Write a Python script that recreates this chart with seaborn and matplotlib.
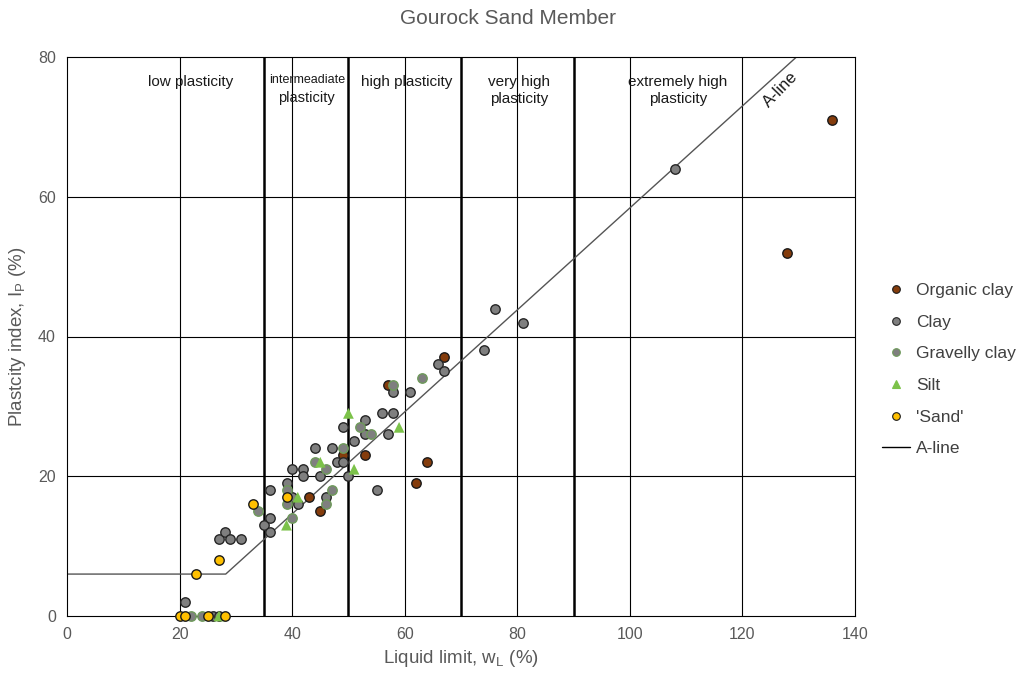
import matplotlib
matplotlib.use("Agg")
import matplotlib.pyplot as plt
import seaborn as sns
import numpy as np
import pandas as pd
from matplotlib.lines import Line2D

sns.set_theme(style="white")
plt.rcParams['font.family'] = ['Liberation Sans', 'DejaVu Sans']

# ---- data (liquid limit wL, plasticity index Ip) ----
organic_wl = [43, 45, 49, 53, 57, 62, 64, 67, 128, 136]
organic_ip = [17, 15, 23, 23, 33, 19, 22, 37, 52, 71]

clay_wl = [21, 26, 27, 27, 28, 29, 31, 35, 36, 36, 36, 39, 40, 40, 41, 42, 42, 44, 45, 46,
           47, 48, 49, 49, 50, 51, 53, 53, 55, 56, 57, 58, 58, 61, 66, 67, 74, 76, 81, 108]
clay_ip = [2, 0, 0, 11, 12, 11, 11, 13, 12, 14, 18, 19, 17, 21, 16, 21, 20, 24, 20, 17,
           24, 22, 22, 27, 20, 25, 28, 26, 18, 29, 26, 29, 32, 32, 36, 35, 38, 44, 42, 64]

gravelly_wl = [22, 24, 34, 39, 39, 40, 44, 46, 46, 47, 49, 52, 54, 58, 63]
gravelly_ip = [0, 0, 15, 18, 16, 14, 22, 21, 16, 18, 24, 27, 26, 33, 34]

silt_wl = [27, 39, 41, 45, 50, 51, 59]
silt_ip = [0, 13, 17, 22, 29, 21, 27]

sand_wl = [20, 21, 25, 28, 23, 27, 33, 39]
sand_ip = [0, 0, 0, 0, 6, 8, 16, 17]

# A-line: Ip = 0.73 (wL - 20), with horizontal part at Ip = 6
aline_wl = [0, 28.2, 129.6]
aline_ip = [6, 6, 80]

zones = [35, 50, 70, 90]
zone_labels = ["low plasticity", "high plasticity", "very high\nplasticity", "extremely high\nplasticity"]
zone_label_x = [22, 60.3, 80.3, 108.5]

xticks = [0, 20, 40, 60, 80, 100, 120, 140]
yticks = [0, 20, 40, 60, 80]

series = [
    ("Organic clay", organic_wl, organic_ip, "o", "#843C0C", "#1a1a1a"),
    ("Clay", clay_wl, clay_ip, "o", "#7F7F7F", "#262626"),
    ("Gravelly clay", gravelly_wl, gravelly_ip, "o", "#7F7F7F", "#6E9A5A"),
    ("Silt", silt_wl, silt_ip, "^", "#7CC24A", "none"),
    ("'Sand'", sand_wl, sand_ip, "o", "#FFC000", "#1a1a1a"),
]

fig = plt.figure(figsize=(10.24, 6.75), dpi=100)
ax = fig.add_axes([67 / 1024, 1 - 616 / 675, (855 - 67) / 1024, (616 - 57) / 675])

ax.set_xlim(0, 140)
ax.set_ylim(0, 80)

# grid
for gx in [20, 40, 60, 80, 100, 120]:
    ax.axvline(gx, color="black", lw=0.8, zorder=1)
for gy in [20, 40, 60]:
    ax.axhline(gy, color="black", lw=0.8, zorder=1)
for z in zones:
    ax.axvline(z, color="black", lw=1.8, zorder=1)

# A-line
sns.lineplot(x=aline_wl, y=aline_ip, ax=ax, color="#555555", lw=1.0, zorder=2,
             sort=False, estimator=None)

handles = []
for name, wl, ip, mk, fc, ec in series:
    df = pd.DataFrame({"wL": wl, "Ip": ip})
    sns.scatterplot(data=df, x="wL", y="Ip", ax=ax, marker=mk, s=46 if mk == "o" else 60,
                    color=fc, edgecolor=ec, linewidth=1.0 if ec != "none" else 0,
                    zorder=3, legend=False, clip_on=False)
    handles.append(Line2D([], [], marker=mk, linestyle="none", markersize=5.5 if mk == "o" else 6,
                          markerfacecolor=fc, markeredgecolor=ec if ec != "none" else fc,
                          markeredgewidth=0.8, label=name))
handles.append(Line2D([], [], color="black", lw=1.0, label="A-line"))

leg = fig.legend(handles=handles, loc="upper left", bbox_to_anchor=(875 / 1024, 1 - 276 / 675),
                 frameon=False, fontsize=12.5, labelspacing=0.95, handlelength=1.6,
                 handletextpad=0.35, borderaxespad=0)
for t in leg.get_texts():
    t.set_color("#404040")

# zone labels
for lbl, lx in zip(zone_labels, zone_label_x):
    ax.text(lx, 77.4, lbl, ha="center", va="top", fontsize=11, color="#1a1a1a", linespacing=1.3)
ax.text(42.6, 77.5, "intermeadiate", ha="center", va="top", fontsize=9, color="#1a1a1a")
ax.text(42.6, 75.1, "plasticity", ha="center", va="top", fontsize=10.5, color="#1a1a1a")
ax.text(126.8, 75.3, "A-line", ha="center", va="center", fontsize=12, rotation=46,
        color="#1a1a1a")

# axes styling
ax.set_xticks(xticks)
ax.set_yticks(yticks)
ax.tick_params(axis="both", labelsize=11.5, colors="#595959", length=0, pad=8)
for sp in ax.spines.values():
    sp.set_color("black")
    sp.set_linewidth(0.8)
ax.set_xlabel("Liquid limit, w$_\\mathregular{L}$ (%)", fontsize=13.5, color="#595959", labelpad=4)
ax.set_ylabel("Plastcity index, I$_\\mathregular{P}$ (%)", fontsize=13.5, color="#595959", labelpad=7)

fig.text(508 / 1024, 1 - 18 / 675, "Gourock Sand Member", ha="center", va="center",
         fontsize=15, color="#595959")

fig.savefig("out.png", dpi=100)
